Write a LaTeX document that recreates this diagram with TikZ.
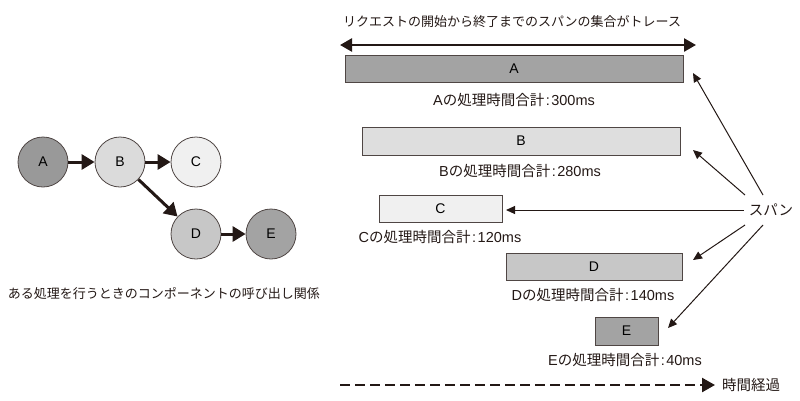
\documentclass[tikz,border=0pt]{standalone}
\usepackage{fontspec}
\setmainfont{Noto Sans CJK JP}
\newfontfamily\lat{Liberation Sans}
\usetikzlibrary{arrows.meta}
\definecolor{ink}{HTML}{231815}
\newcommand{\dur}[2]{{\lat #1}の処理時間合計\hspace{1.5pt}{\lat :\hspace{1.5pt}#2}}
\tikzset{
  circ/.style={circle, draw=ink!80, line width=0.8pt, minimum size=50pt, inner sep=0pt, font=\lat\fontsize{14}{16}\selectfont},
  bigarrow/.style={draw=ink, line width=3pt, -{Triangle[length=13pt,width=15pt]}},
  bar/.style={draw=ink!80, line width=0.8pt, inner sep=0pt, font=\lat\fontsize{14}{16}\selectfont},
  lbl/.style={font=\fontsize{13}{15}\selectfont, inner sep=0pt, text=ink},
  durlbl/.style={font=\fontsize{14.5}{16}\selectfont, inner sep=0pt, text=ink},
  spanarrow/.style={draw=ink, line width=1pt, -{Triangle[length=9pt,width=8pt]}},
}
\begin{document}
\begin{tikzpicture}[x=1pt,y=-1pt]
\useasboundingbox (0,0) rectangle (800,400);
% left: call graph
\node[circ, fill=black!40] (A) at (43,162) {A};
\node[circ, fill=black!14] (B) at (120,162) {B};
\node[circ, fill=black!6] (C) at (196,162) {C};
\node[circ, fill=black!22] (D) at (196,234) {D};
\node[circ, fill=black!36] (E) at (271,234) {E};
\draw[bigarrow] (A) -- (B);
\draw[bigarrow] (B) -- (C);
\draw[bigarrow] (B) -- (D);
\draw[bigarrow] (D) -- (E);
\node[lbl] (cap) at (164,294) {ある処理を行うときのコンポーネントの呼び出し関係};
% right: trace
\node[lbl] (title) at (512,22) {リクエストの開始から終了までのスパンの集合がトレース};
\coordinate (tl) at (340,45);
\coordinate (tr) at (696,45);
\draw[draw=ink, line width=2.5pt, {Triangle[length=12pt,width=13pt]}-{Triangle[length=12pt,width=13pt]}] (tl) -- (tr);
\node[bar, fill=black!36, minimum width=338pt, minimum height=27pt] (sA) at (514,68.5) {A};
\node[durlbl] (lA) at (514,100) {\dur{A}{300ms}};
\node[bar, fill=black!13, minimum width=318pt, minimum height=28pt] (sB) at (521,141) {B};
\node[durlbl] (lB) at (520,171) {\dur{B}{280ms}};
\node[bar, fill=black!6, minimum width=123pt, minimum height=27pt] (sC) at (440.5,208.5) {C};
\node[durlbl] (lC) at (440,237) {\dur{C}{120ms}};
\node[bar, fill=black!22, minimum width=176pt, minimum height=27pt] (sD) at (594,266.5) {D};
\node[durlbl] (lD) at (593,295) {\dur{D}{140ms}};
\node[bar, fill=black!36, minimum width=63pt, minimum height=28pt] (sE) at (626.5,331) {E};
\node[durlbl] (lE) at (625,360) {\dur{E}{40ms}};
% span label and arrows
\node[durlbl] (span) at (771,210) {スパン};
\coordinate (pA) at (693,73);
\coordinate (pB) at (693,150);
\coordinate (pC) at (506,210);
\coordinate (pD) at (693,260);
\coordinate (pE) at (668,328);
\draw[spanarrow] (763,195) -- (pA);
\draw[spanarrow] (745,195) -- (pB);
\draw[spanarrow] (span.west) ++(-5,0) -- (pC);
\draw[spanarrow] (745,225) -- (pD);
\draw[spanarrow] (763,225) -- (pE);
% time axis
\coordinate (t0) at (340,385);
\coordinate (t1) at (715,385);
\node[durlbl, anchor=west] (time) at (722,385) {時間経過};
\draw[draw=ink, line width=2.5pt, dash pattern=on 9.5pt off 5.5pt, -{Triangle[length=13pt,width=14pt]}] (t0) -- (t1);
\end{tikzpicture}
\end{document}
